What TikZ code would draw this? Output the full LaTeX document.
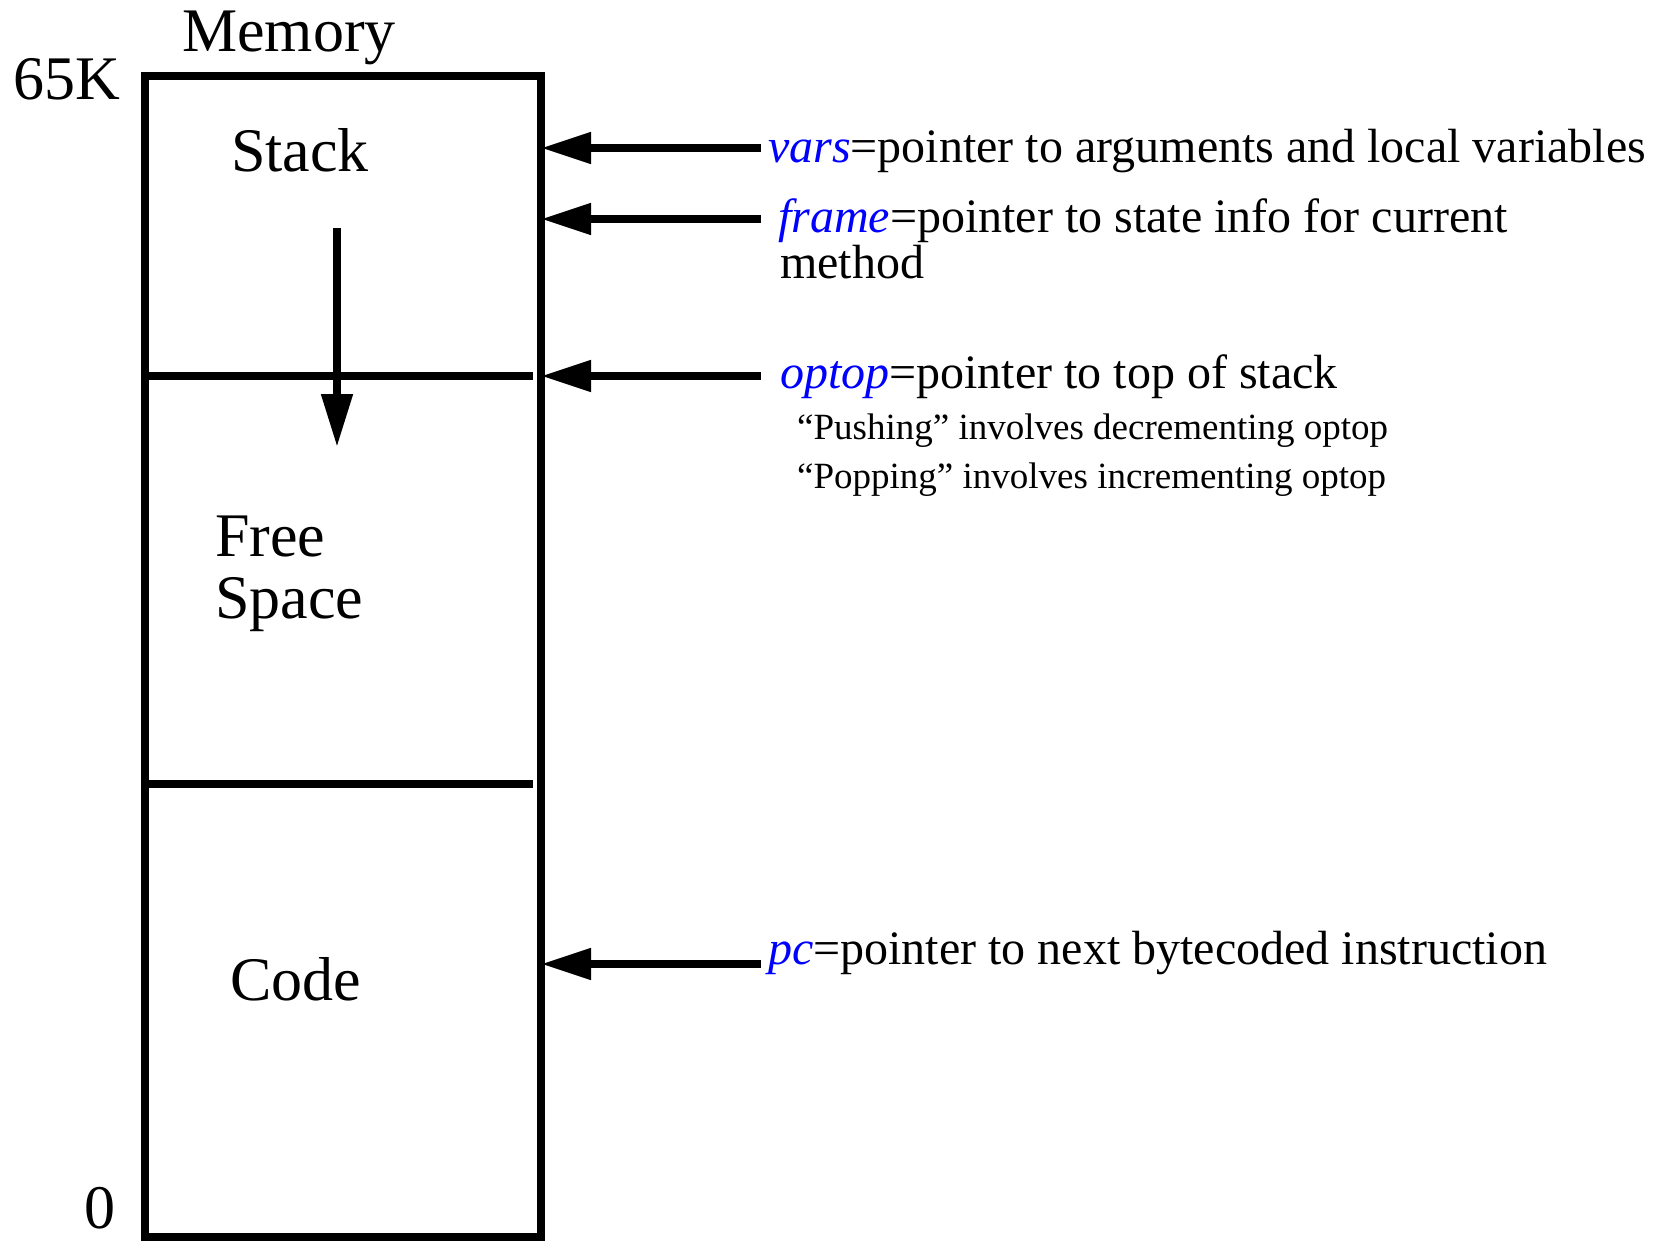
\documentclass[tikz,border=0pt]{standalone}
\usepackage{fontspec}
\setmainfont{Liberation Serif}
\usetikzlibrary{arrows.meta}

\tikzset{
  big/.style={font=\fontsize{62}{62}\selectfont, inner sep=0pt},
  tag/.style={font=\fontsize{62}{62}\selectfont, inner sep=0pt, anchor=base west},
  note/.style={font=\fontsize{48}{56}\selectfont, inner ysep=0pt, anchor=base west},
  small/.style={font=\fontsize{37}{44}\selectfont, inner sep=0pt, anchor=base west},
  wall/.style={line width=8pt},
  ptr/.style={->, line width=8pt, shorten >=-4pt},
}
\newcommand{\reg}[1]{\textcolor{blue}{\textit{#1}}}

\begin{document}
\begin{tikzpicture}[x=1pt,y=-1pt,>={Triangle[length=50pt,width=30pt]}]
  \useasboundingbox (0,0) rectangle (1660,1241);

  % the memory column and its three regions
  \node[draw, wall, anchor=north west, minimum width=396pt, minimum height=1161pt] (mem) at (141,72) {};
  \draw[wall] (145,376) -- (533,376);
  \draw[wall] (145,784) -- (533,784);

  \node[big, anchor=base west]        (title)  at (182,52)   {Memory};
  \node[tag]                          (top)    at (13,100)   {65K};
  \node[tag]                          (bottom) at (84,1228)  {0};
  \node[big, anchor=base]             (stack)  at (300,172)  {Stack};
  \node[big, anchor=west, align=left] (free)   at (215,574)  {Free\\Space};
  \node[big, anchor=base]             (code)   at (296,1000) {Code};

  % stack grows downwards
  \coordinate (grow) at (337,228);
  \draw[wall, ->, >={Triangle[length=53pt,width=30pt]}] (grow) -- ++(0,219);

  % registers pointing into memory
  \node[note, inner xsep=7pt]  (vars)   at (761,163) {\reg{vars}=pointer to arguments and local variables};
  \node[note, inner xsep=17pt] (frame)  at (761,233) {\reg{frame}=pointer to state info for current};
  \node[note, inner xsep=0pt]  (method) at (780,279) {method};
  \node[note, inner xsep=19pt] (optop)  at (761,388) {\reg{optop}=pointer to top of stack};
  \node[small]                 (push)   at (797,439) {``Pushing'' involves decrementing optop};
  \node[small]                 (pop)    at (797,488) {``Popping'' involves incrementing optop};
  \node[note, inner xsep=7pt]  (pc)     at (761,964) {\reg{pc}=pointer to next bytecoded instruction};

  \foreach \r/\lift in {vars/15,frame/14,optop/12,pc/0}
    \draw[ptr] ([yshift=\lift pt]\r.base west) -- ([yshift=\lift pt]\r.base west -| mem.east);
\end{tikzpicture}
\end{document}
